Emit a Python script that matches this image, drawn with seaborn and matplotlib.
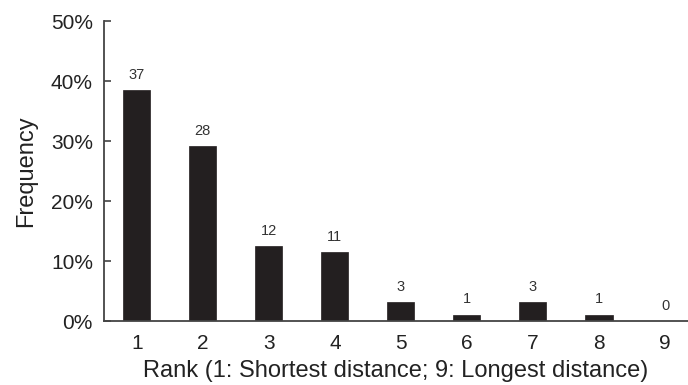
import matplotlib
matplotlib.use("Agg")
import matplotlib.pyplot as plt
import seaborn as sns
import pandas as pd
from matplotlib.ticker import FuncFormatter

ranks = ["1", "2", "3", "4", "5", "6", "7", "8", "9"]
counts = [37, 28, 12, 11, 3, 1, 3, 1, 0]

total = sum(counts)
df = pd.DataFrame({
    "rank": ranks,
    "count": counts,
    "freq": [c / total * 100 for c in counts],
})

sns.set_theme(style="ticks")
plt.rcParams["font.family"] = ["Liberation Sans", "DejaVu Sans"]

fig = plt.figure(figsize=(6.88, 3.85), dpi=100)
ax = fig.add_axes([0.1512, 0.166, 0.849, 0.779])

sns.barplot(data=df, x="rank", y="freq", color="#231f20", width=0.41,
            saturation=1, ax=ax, edgecolor="#231f20", linewidth=0.5)

for i, (f, c) in enumerate(zip(df["freq"], df["count"])):
    ax.text(i, f + 1.4, str(c), ha="center", va="bottom",
            fontsize=10.5, color="#333333")

ax.set_ylim(0, 50)
ax.set_xlim(-0.495, 8.35)
ax.set_yticks([0, 10, 20, 30, 40, 50])
ax.yaxis.set_major_formatter(FuncFormatter(lambda v, p: f"{v:.0f}%"))

ax.set_ylabel("Frequency", fontsize=17, color="#222222", labelpad=10)
ax.set_xlabel("Rank (1: Shortest distance; 9: Longest distance)",
              fontsize=17, color="#222222", labelpad=5)

ax.tick_params(axis="y", direction="in", length=5, width=1.2,
               colors="#444444", labelsize=15, labelcolor="#222222", pad=8)
ax.tick_params(axis="x", length=0, labelsize=15, labelcolor="#222222", pad=9)

for side in ["top", "right"]:
    ax.spines[side].set_visible(False)
for side in ["left", "bottom"]:
    ax.spines[side].set_color("#444444")
    ax.spines[side].set_linewidth(1.3)

fig.savefig("out.png", dpi=100)
